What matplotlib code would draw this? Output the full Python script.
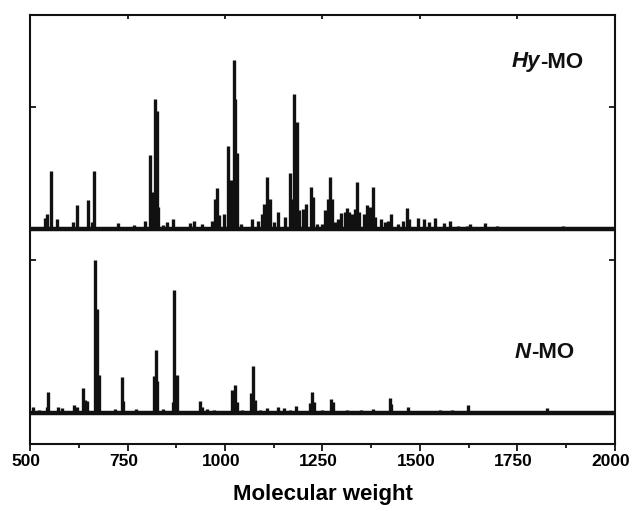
import matplotlib

matplotlib.use("Agg")
import matplotlib.pyplot as plt
import matplotlib.transforms as mtransforms
import numpy as np

plt.rcParams["font.family"] = ["Liberation Sans", "DejaVu Sans"]
plt.rcParams["font.weight"] = "bold"

# peak positions (molecular weight) and relative intensities (max = 100)
hy_mass = [538, 544, 553, 569, 610, 620, 649, 658, 665, 726, 767, 795, 808, 813,
           820, 826, 829, 840, 851, 867, 910, 921, 940, 966, 974, 979, 985, 997,
           1008, 1015, 1022, 1026, 1031, 1041, 1068, 1085, 1095, 1100, 1109, 1115,
           1126, 1136, 1154, 1167, 1172, 1177, 1184, 1190, 1199, 1208, 1220, 1226,
           1235, 1248, 1256, 1264, 1269, 1274, 1282, 1290, 1298, 1308, 1312, 1317,
           1325, 1333, 1338, 1343, 1356, 1364, 1372, 1380, 1385, 1400, 1410, 1418,
           1426, 1444, 1457, 1467, 1472, 1495, 1510, 1523, 1538, 1562, 1577, 1598,
           1620, 1628, 1668, 1697, 1764, 1867, 1956]
hy_int = [6.5, 9, 34, 6, 4, 14, 17, 4, 34, 3.5, 2.5, 5, 44, 22,
          77, 70, 13, 2.5, 4, 6, 3.5, 5, 3, 4.5, 18, 24, 8, 9,
          49, 29, 100, 77, 45, 3, 6, 5, 9, 15, 31, 18,
          4, 10, 7, 33, 18, 80, 63, 11, 12, 15, 25, 19,
          3, 3, 11, 18, 31, 18, 4, 6, 9.5, 10, 12.5, 10,
          9, 12, 28, 10, 9, 14, 13, 25, 7, 6, 4, 5,
          9, 3, 5, 12.5, 6, 6.5, 6, 4, 6.5, 3.5, 5, 2,
          2, 3, 3.5, 2, 1.2, 2, 1.2]

n_mass = [507, 523, 543, 546, 572, 581, 603, 614, 621, 637, 642, 647, 667, 673,
          678, 718, 736, 739, 756, 772, 818, 823, 826, 840, 852, 866, 869, 876,
          914, 936, 940, 953, 972, 1019, 1026, 1031, 1043, 1067, 1072, 1077, 1090,
          1108, 1137, 1152, 1167, 1181, 1205, 1218, 1224, 1229, 1248, 1271, 1276,
          1312, 1350, 1380, 1423, 1427, 1470, 1513, 1551, 1581, 1624, 1671, 1709,
          1782, 1826, 1872, 1910, 1978]
n_int = [4, 2, 4, 14, 4, 3, 1.5, 5, 4, 16, 8.5, 8, 100, 68,
         25, 2.5, 23.5, 8, 1.5, 2.5, 24, 41, 21, 2.5, 1.5, 7, 80, 25,
         1.5, 8, 4, 2.5, 2, 15, 18, 7, 2, 13, 30.5, 8.5, 2,
         3, 4, 3, 2, 4.5, 1.5, 6.5, 14, 7, 2, 9, 7,
         2, 2, 2.5, 9.5, 6, 4, 1.5, 2, 2, 5, 1.5, 1.5,
         1.5, 3, 1.5, 1.2, 1.5]

x_ticks = [500, 750, 1000, 1250, 1500, 1750, 2000]
ink = "#111111"

fig = plt.figure(figsize=(6.32, 5.11), dpi=100)
ax_top = fig.add_axes([0.0475, 0.546, 0.9255, 0.4246])
ax_bot = fig.add_axes([0.0475, 0.1311, 0.9255, 0.4149], sharex=ax_top)

for ax, mass, inten in [(ax_top, hy_mass, hy_int), (ax_bot, n_mass, n_int)]:
    ax.vlines(mass, 0, inten, color=ink, linewidth=2.4)
    ax.axhline(0, color=ink, linewidth=3.2)
    for side in ax.spines.values():
        side.set_linewidth(1.5)
        side.set_color(ink)
    ax.tick_params(axis="y", left=True, right=True, direction="in",
                   labelleft=False, length=4, width=1.2)

ax_top.set_xlim(500, 2000)
ax_top.set_ylim(-1.8, 126.6)
ax_top.set_yticks([72])
ax_top.spines["bottom"].set_visible(False)
ax_top.set_xticks(np.arange(500, 2001, 125))
ax_top.tick_params(axis="x", bottom=False, top=True, direction="in",
                   labelbottom=False, length=3, width=1.2)

ax_bot.set_ylim(-20.2, 118)
ax_bot.set_yticks([100])
ax_bot.spines["top"].set_visible(False)
ax_bot.set_xticks(x_ticks)
ax_bot.set_xticks(np.arange(625, 2000, 250), minor=True)
ax_bot.tick_params(axis="x", which="major", direction="out", length=5, width=1.2,
                   labelsize=12.5, pad=2)
ax_bot.tick_params(axis="x", which="minor", direction="out", length=3, width=1.2)
ax_bot.set_xlabel("Molecular weight", fontsize=16, fontweight="bold", labelpad=11)

# tick labels sit slightly left of their ticks in the original
shift = mtransforms.ScaledTranslation(-4 / 100, 0, fig.dpi_scale_trans)
for lbl in ax_bot.get_xticklabels():
    lbl.set_transform(lbl.get_transform() + shift)

for ax, ypos, xpos, italic_part in [(ax_top, 1 - 62 / 511, 512 / 632, "Hy"),
                                    (ax_bot, 1 - 352 / 511, 515 / 632, "N")]:
    t1 = ax.text(xpos, ypos, italic_part, transform=fig.transFigure, fontsize=16,
                 fontweight="bold", style="italic", va="center", ha="left", color=ink)
    ax.annotate("-MO", xy=(1, 0), xycoords=t1, va="bottom", ha="left",
                fontsize=16, fontweight="bold", color=ink, annotation_clip=False)

fig.savefig("out.png", dpi=100)
